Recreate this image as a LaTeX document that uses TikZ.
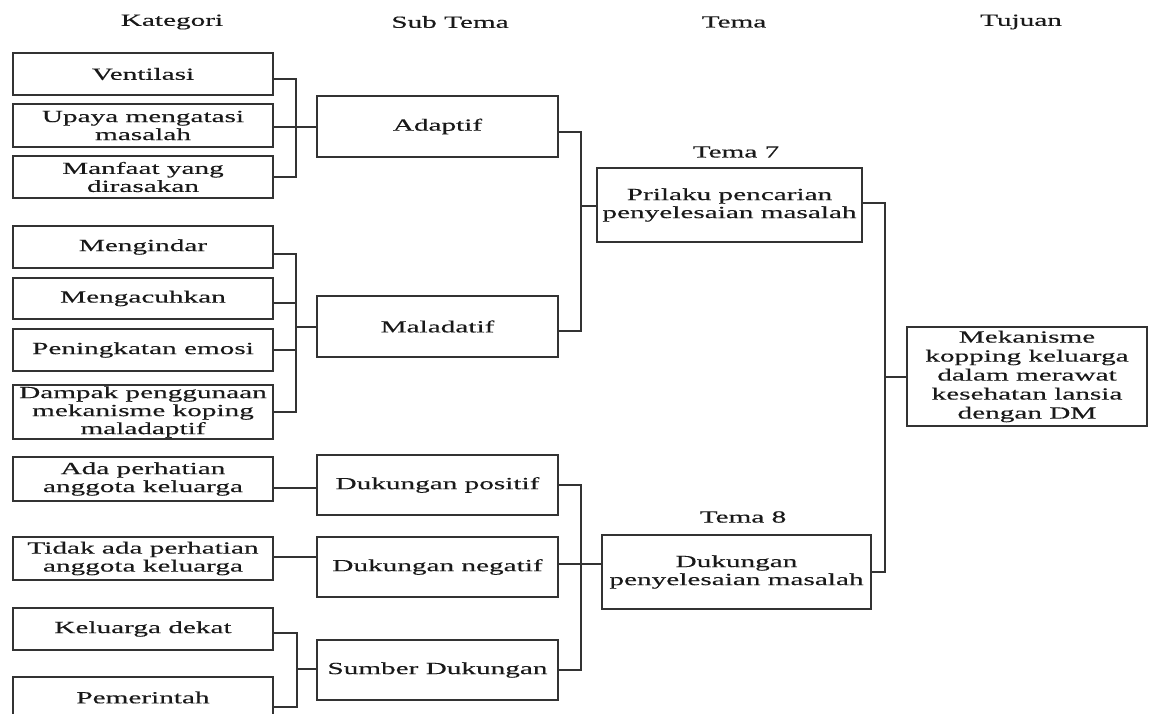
\documentclass[tikz,border=0pt]{standalone}
\usepackage{fontspec}
\setmainfont[FakeStretch=1.72,FakeBold=0.35]{Liberation Serif}
\newcommand{\dgfont}{\fontsize{17}{18}\selectfont}
\begin{document}
\begin{tikzpicture}[x=1pt,y=-1pt,
  box/.style={draw=black!80, line width=1.1pt, inner sep=0pt, align=center,
              font=\dgfont, text=black!90},
  lbl/.style={font=\dgfont, text=black!90, inner sep=0pt},
  link/.style={draw=black!80, line width=1.1pt}]
\useasboundingbox (0,0) rectangle (1152,713);
\clip (0,0) rectangle (1152,713);

% column headings
\node[lbl] (hk) at (172,22) {Kategori};
\node[lbl] (hs) at (450,22) {Sub Tema};
\node[lbl] (ht) at (734,22) {Tema};
\node[lbl] (hj) at (1021,22) {Tujuan};

% categories
\node[box, minimum width=260pt, minimum height=42pt] (vent) at (143,74) {Ventilasi};
\node[box, minimum width=260pt, minimum height=43pt] (upaya) at (143,125.5) {Upaya mengatasi\\masalah};
\node[box, minimum width=260pt, minimum height=42pt] (manfaat) at (143,177) {Manfaat yang\\dirasakan};
\node[box, minimum width=260pt, minimum height=42pt] (mengindar) at (143,247) {Mengindar};
\node[box, minimum width=260pt, minimum height=41pt] (mengacuhkan) at (143,298.5) {Mengacuhkan};
\node[box, minimum width=260pt, minimum height=42pt] (peningkatan) at (143,350) {Peningkatan emosi};
\node[box, minimum width=260pt, minimum height=54pt] (dampak) at (143,412) {Dampak penggunaan\\mekanisme koping\\maladaptif};
\node[box, minimum width=260pt, minimum height=44pt] (ada) at (143,479) {Ada perhatian\\anggota keluarga};
\node[box, minimum width=260pt, minimum height=43pt] (tidak) at (143,558.5) {Tidak ada perhatian\\anggota keluarga};
\node[box, minimum width=260pt, minimum height=42pt] (keluarga) at (143,629) {Keluarga dekat};
\node[box, minimum width=260pt, minimum height=41pt] (pemerintah) at (143,697.5) {Pemerintah};

% sub themes
\node[box, minimum width=241pt, minimum height=61pt] (adaptif) at (437.5,126.5) {Adaptif};
\node[box, minimum width=241pt, minimum height=61pt] (maladatif) at (437.5,326.5) {Maladatif};
\node[box, minimum width=241pt, minimum height=60pt] (positif) at (437.5,485) {Dukungan positif};
\node[box, minimum width=241pt, minimum height=60pt] (negatif) at (437.5,567) {Dukungan negatif};
\node[box, minimum width=241pt, minimum height=60pt] (sumber) at (437.5,670) {Sumber Dukungan};

% themes
\node[lbl] (t7) at (736,152) {Tema 7};
\node[box, minimum width=265pt, minimum height=74pt] (prilaku) at (729.5,205) {Prilaku pencarian\\penyelesaian masalah};
\node[lbl] (t8) at (743,517) {Tema 8};
\node[box, minimum width=269pt, minimum height=74pt] (dukungan) at (736.5,572) {Dukungan\\penyelesaian masalah};

% goal
\node[box, minimum width=240pt, minimum height=99pt, font=\fontsize{17}{19}\selectfont] (mek) at (1027,376.5)
  {Mekanisme\\kopping keluarga\\dalam merawat\\kesehatan lansia\\dengan DM};

% bracket junctions
\coordinate (j1) at (296,127);
\coordinate (j2) at (296,327);
\coordinate (j3) at (581,206);
\coordinate (j4) at (297,669);
\coordinate (j5) at (581,564);
\coordinate (j6) at (885,377);

% categories -> Adaptif
\draw[link] ([yshift=-5pt]vent.east) -| (j1);
\draw[link] (manfaat.east) -| (j1);
\draw[link] ([yshift=-1.5pt]upaya.east) -- ([yshift=-1.5pt]upaya.east -| adaptif.west);

% categories -> Maladatif
\draw[link] ([yshift=-7pt]mengindar.east) -| (j2);
\draw[link] (dampak.east) -| (j2);
\draw[link] ([yshift=-4.5pt]mengacuhkan.east) -- ([yshift=-4.5pt]mengacuhkan.east -| j2);
\draw[link] (peningkatan.east) -- (peningkatan.east -| j2);
\draw[link] (j2) -- (j2 -| maladatif.west);

% sub themes -> Tema 7
\draw[link] ([yshift=-5.5pt]adaptif.east) -| (j3);
\draw[link] ([yshift=-4.5pt]maladatif.east) -| (j3);
\draw[link] (j3) -- (j3 -| prilaku.west);

% categories -> support sub themes
\draw[link] ([yshift=-9pt]ada.east) -- ([yshift=-9pt]ada.east -| positif.west);
\draw[link] ([yshift=1.5pt]tidak.east) -- ([yshift=1.5pt]tidak.east -| negatif.west);
\draw[link] ([yshift=-4pt]keluarga.east) -| (j4);
\draw[link] ([yshift=-9.5pt]pemerintah.east) -| (j4);
\draw[link] (j4) -- (j4 -| sumber.west);

% sub themes -> Tema 8
\draw[link] (positif.east) -| (j5);
\draw[link] (sumber.east) -| (j5);
\draw[link] ([yshift=3pt]negatif.east) -- ([yshift=3pt]negatif.east -| dukungan.west);

% themes -> goal
\draw[link] ([yshift=2pt]prilaku.east) -| (j6);
\draw[link] (dukungan.east) -| (j6);
\draw[link] (j6) -- (j6 -| mek.west);
\end{tikzpicture}
\end{document}
